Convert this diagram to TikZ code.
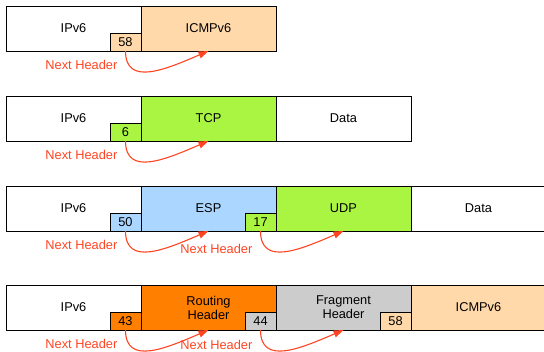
\documentclass[tikz,border=0pt]{standalone}
\usepackage{fontspec}
\setmainfont{Liberation Sans}
\usepackage{tikz}
\usetikzlibrary{positioning, arrows.meta}
\usepackage{xcolor}

\definecolor{icmpfill}{RGB}{255,217,170}
\definecolor{tcpfill}{RGB}{170,245,66}
\definecolor{espfill}{RGB}{170,214,255}
\definecolor{routefill}{RGB}{255,128,0}
\definecolor{fragfill}{RGB}{204,204,204}
\definecolor{nhred}{RGB}{255,68,34}

\begin{document}
\begin{tikzpicture}[x=1pt, y=-1pt,
    every node/.style={font=\fontsize{12.8}{14}\selectfont},
    hdr/.style={draw=black, line width=0.9pt, minimum width=135pt, minimum height=45pt,
      inner sep=0pt, outer sep=0pt, align=center},
    nhbox/.style={draw=black, line width=0.9pt, minimum width=31pt, minimum height=18pt,
      inner sep=0pt, outer sep=0pt, anchor=south east},
    nhlabel/.style={text=nhred, anchor=east, inner sep=0pt},
    nharrow/.style={draw=nhred, line width=1.1pt, -{Triangle[length=10pt, width=7pt]}}]

    \clip (0,0) rectangle (544,352);

    % Row 1: IPv6 -> ICMPv6
    \node[hdr, anchor=north west] (ipA) at (6,6) {IPv6};
    \node[hdr, fill=icmpfill, right=0pt of ipA] (icmpA) {ICMPv6};
    \node[nhbox, fill=icmpfill] (nhA) at (ipA.south east) {58};
    \node[nhlabel] (lblA) at ([xshift=-8pt, yshift=-14pt]nhA.south) {Next Header};
    \draw[nharrow] (nhA.south) .. controls +(0,36) and +(-42,18) .. (icmpA.south);

    % Row 2: IPv6 -> TCP -> Data
    \node[hdr, anchor=north west] (ipB) at (6,96) {IPv6};
    \node[hdr, fill=tcpfill, right=0pt of ipB] (tcpB) {TCP};
    \node[hdr, right=0pt of tcpB] (dataB) {Data};
    \node[nhbox, fill=tcpfill] (nhB) at (ipB.south east) {6};
    \node[nhlabel] (lblB) at ([xshift=-8pt, yshift=-14pt]nhB.south) {Next Header};
    \draw[nharrow] (nhB.south) .. controls +(0,36) and +(-42,18) .. (tcpB.south);

    % Row 3: IPv6 -> ESP -> UDP -> Data
    \node[hdr, anchor=north west] (ipC) at (6,186) {IPv6};
    \node[hdr, fill=espfill, right=0pt of ipC] (espC) {ESP};
    \node[hdr, fill=tcpfill, right=0pt of espC] (udpC) {UDP};
    \node[hdr, right=0pt of udpC] (dataC) {Data};
    \node[nhbox, fill=espfill] (nhC1) at (ipC.south east) {50};
    \node[nhbox, fill=tcpfill] (nhC2) at (espC.south east) {17};
    \node[nhlabel] (lblC1) at ([xshift=-8pt, yshift=-14pt]nhC1.south) {Next Header};
    \node[nhlabel] (lblC2) at ([xshift=-8pt, yshift=-18pt]nhC2.south) {Next Header};
    \draw[nharrow] (nhC1.south) .. controls +(0,36) and +(-42,18) .. (espC.south);
    \draw[nharrow] (nhC2.south) .. controls +(0,36) and +(-42,18) .. (udpC.south);

    % Row 4: IPv6 -> Routing -> Fragment -> ICMPv6
    \node[hdr, anchor=north west] (ipD) at (6,285) {IPv6};
    \node[hdr, fill=routefill, right=0pt of ipD] (routeD) {Routing\\Header};
    \node[hdr, fill=fragfill, right=0pt of routeD] (fragD) {Fragment\\Header};
    \node[hdr, fill=icmpfill, right=0pt of fragD] (icmpD) {ICMPv6};
    \node[nhbox, fill=routefill] (nhD1) at (ipD.south east) {43};
    \node[nhbox, fill=fragfill] (nhD2) at (routeD.south east) {44};
    \node[nhbox, fill=icmpfill] (nhD3) at (fragD.south east) {58};
    \node[nhlabel] (lblD1) at ([xshift=-8pt, yshift=-14pt]nhD1.south) {Next Header};
    \node[nhlabel] (lblD2) at ([xshift=-8pt, yshift=-15pt]nhD2.south) {Next Header};
    \draw[nharrow] (nhD1.south) .. controls +(0,36) and +(-42,18) .. (routeD.south);
    \draw[nharrow] (nhD2.south) .. controls +(0,36) and +(-42,18) .. (fragD.south);
  \end{tikzpicture}
\end{document}
